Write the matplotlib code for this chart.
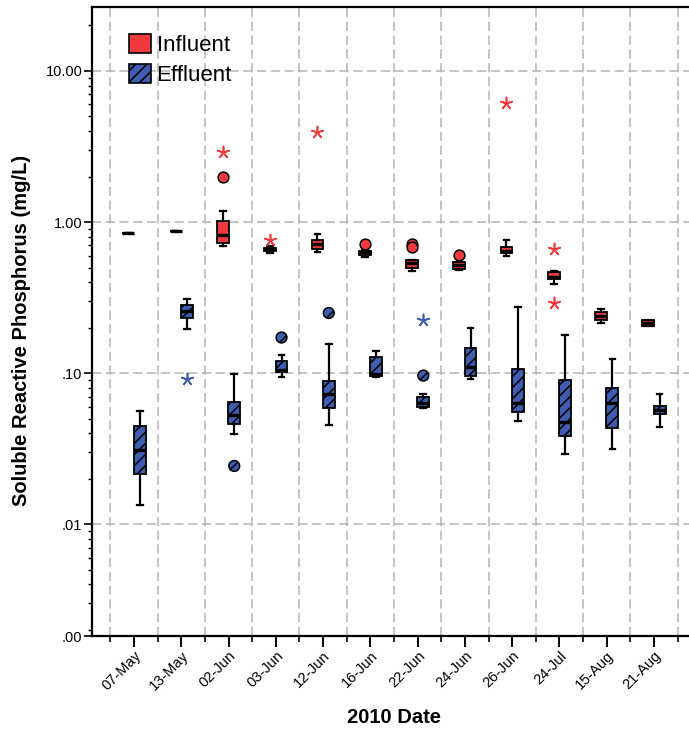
import numpy as np
import matplotlib.pyplot as plt
from matplotlib.patches import Patch
from matplotlib.ticker import FixedLocator, FuncFormatter, NullFormatter

plt.rcParams['font.family'] = ['Liberation Sans', 'DejaVu Sans']
plt.rcParams['hatch.linewidth'] = 1.1

dates = ['07-May', '13-May', '02-Jun', '03-Jun', '12-Jun', '16-Jun',
         '22-Jun', '24-Jun', '26-Jun', '24-Jul', '15-Aug', '21-Aug']

# influent SRP (mg/L): whisker low, Q1, median, Q3, whisker high
inf_lo  = [0.84, 0.87, 0.698, 0.622, 0.637, 0.591, 0.475, 0.482, 0.600, 0.390, 0.216, 0.205]
inf_q1  = [0.84, 0.87, 0.731, 0.644, 0.661, 0.606, 0.495, 0.490, 0.622, 0.420, 0.223, 0.206]
inf_med = [0.84, 0.87, 0.826, 0.659, 0.720, 0.632, 0.534, 0.520, 0.648, 0.436, 0.239, 0.216]
inf_q3  = [0.84, 0.87, 1.018, 0.678, 0.762, 0.647, 0.562, 0.547, 0.688, 0.466, 0.252, 0.223]
inf_hi  = [0.84, 0.87, 1.186, 0.698, 0.839, 0.654, 0.562, 0.547, 0.762, 0.473, 0.266, 0.226]
# outliers as (date index, value)
inf_out_idx = [2, 5, 6, 6, 7]
inf_out_val = [2.00, 0.717, 0.715, 0.680, 0.606]
inf_ext_idx = [2, 3, 4, 8, 9, 9]
inf_ext_val = [2.90, 0.762, 3.93, 6.18, 0.664, 0.290]

# effluent SRP (mg/L)
eff_lo  = [0.0134, 0.196, 0.0398, 0.0949, 0.0454, 0.0940, 0.0586, 0.0912, 0.0485, 0.0292, 0.0315, 0.0443]
eff_q1  = [0.0216, 0.231, 0.0461, 0.1014, 0.0589, 0.0963, 0.0600, 0.0963, 0.0556, 0.0384, 0.0432, 0.0535]
eff_med = [0.0310, 0.256, 0.0532, 0.1050, 0.0725, 0.0984, 0.0638, 0.1105, 0.0632, 0.0478, 0.0638, 0.0571]
eff_q3  = [0.0450, 0.282, 0.0642, 0.1200, 0.0893, 0.1275, 0.0699, 0.1463, 0.1062, 0.0906, 0.0795, 0.0610]
eff_hi  = [0.0562, 0.310, 0.0993, 0.1327, 0.1554, 0.1404, 0.0729, 0.1992, 0.2733, 0.1799, 0.1242, 0.0729]
eff_out_idx = [2, 3, 4, 6]
eff_out_val = [0.0243, 0.172, 0.250, 0.0963]
eff_ext_idx = [1, 6]
eff_ext_val = [0.0912, 0.224]

red = '#f03a3e'
blue = '#3e5db0'
off = 0.12
bw = 0.25


def stats(lo, q1, med, q3, hi):
    return [dict(whislo=a, q1=b, med=c, q3=d, whishi=e, fliers=[])
            for a, b, c, d, e in zip(lo, q1, med, q3, hi)]


fig = plt.figure(figsize=(6.89, 7.30), dpi=100)
ax = fig.add_axes([92 / 689, 94 / 730, 604 / 689, 629 / 730])
ax.set_yscale('log')

x = np.arange(len(dates))
common = dict(widths=bw, patch_artist=True, showfliers=False, manage_ticks=False,
              capwidths=0.12,
              medianprops=dict(color='black', linewidth=2.4, solid_capstyle='butt'),
              whiskerprops=dict(color='black', linewidth=1.6),
              capprops=dict(color='black', linewidth=1.6))
ax.bxp(stats(inf_lo, inf_q1, inf_med, inf_q3, inf_hi), positions=x - off,
       boxprops=dict(facecolor=red, edgecolor='black', linewidth=1.3), **common)
ax.bxp(stats(eff_lo, eff_q1, eff_med, eff_q3, eff_hi), positions=x + off,
       boxprops=dict(facecolor=blue, edgecolor='black', linewidth=1.3, hatch='///'),
       **common)

# outliers (circles) and extremes (asterisks)
ax.scatter(np.array(inf_out_idx) - off, inf_out_val, s=60, c=red,
           edgecolors='black', linewidths=1.1, zorder=4)
ax.scatter(np.array(eff_out_idx) + off, eff_out_val, s=60, c=blue,
           edgecolors='black', linewidths=1.1, hatch='///', zorder=4)
ax.scatter(np.array(inf_ext_idx) - off, inf_ext_val, s=75, marker=(5, 2, 0),
           c=red, linewidths=1.2, zorder=4)
ax.scatter(np.array(eff_ext_idx) + off, eff_ext_val, s=75, marker=(5, 2, 0),
           c=blue, linewidths=1.2, zorder=4)

ymin, ymax = 0.00182, 26.5
ax.set_xlim(-0.89, len(dates) - 0.11)
ax.set_ylim(ymin, ymax)

ax.set_xticks(x)
ax.set_xticklabels(dates, rotation=45, ha='right', rotation_mode='anchor', fontsize=10.5)
ax.xaxis.set_minor_locator(FixedLocator(np.arange(len(dates) + 1) - 0.5))
ax.set_yticks([ymin, 0.01, 0.1, 1, 10])
minor = [m * 10.0 ** e for e in range(-3, 2) for m in range(2, 10)]
ax.yaxis.set_minor_locator(FixedLocator([v for v in minor if ymin < v < ymax]))
ax.yaxis.set_minor_formatter(NullFormatter())
ax.yaxis.set_major_formatter(FuncFormatter(lambda v, p: ('%.2f' % v).lstrip('0')))
ax.tick_params(axis='y', which='major', length=6, width=1.2, labelsize=10.5, pad=1)
ax.tick_params(axis='y', which='minor', length=3, width=1.0)
ax.tick_params(axis='x', which='major', length=8, width=1.4, pad=1)
ax.tick_params(axis='x', which='minor', length=4, width=1.2)

ax.grid(True, axis='y', which='major', color='#b4b4b4', linestyle=(0, (6, 3)), linewidth=1.1)
ax.grid(True, axis='x', which='minor', color='#b4b4b4', linestyle=(0, (6, 3)), linewidth=1.1)
ax.set_axisbelow(True)
for s in ax.spines.values():
    s.set_linewidth(1.6)

ax.set_xlabel('2010 Date', fontsize=14.5, fontweight='bold', va='center')
ax.xaxis.set_label_coords(0.5, -0.129)
ax.set_ylabel('Soluble Reactive Phosphorus (mg/L)', fontsize=14.5, fontweight='bold',
              va='center', ha='center')
ax.yaxis.set_label_coords(-0.116, 0.486)

handles = [Patch(facecolor=red, edgecolor='black', linewidth=1.2),
           Patch(facecolor=blue, edgecolor='black', linewidth=1.2, hatch='///')]
ax.legend(handles, ['Influent', 'Effluent'], loc='upper left', frameon=False,
          fontsize=16, bbox_to_anchor=(0.061, 0.957), borderaxespad=0, borderpad=0,
          handlelength=1.0, handleheight=0.95, handletextpad=0.25, labelspacing=0.36)

fig.savefig('out.png', dpi=100)
